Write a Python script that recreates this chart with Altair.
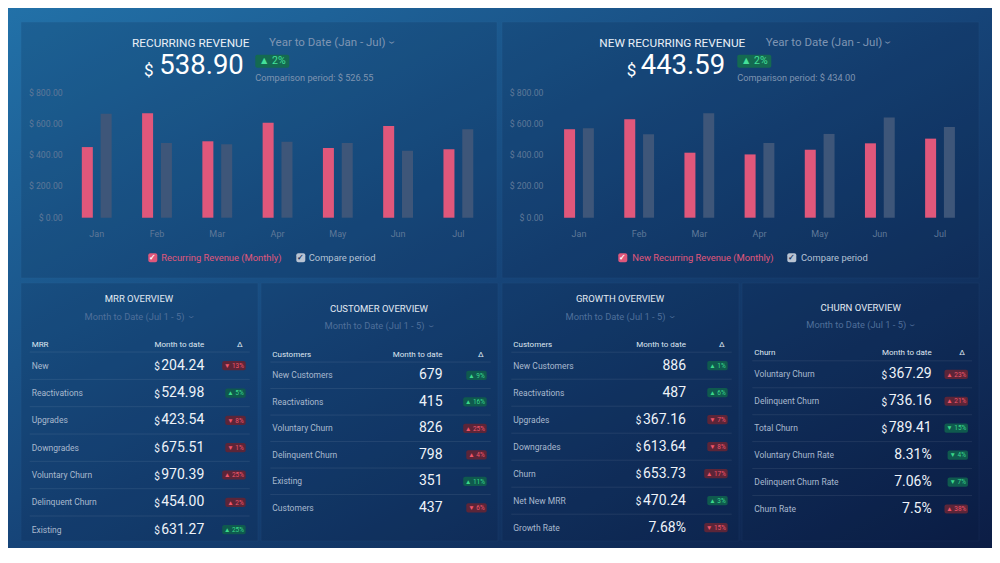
import altair as alt
import pandas as pd

# ---------------- data ----------------
months = ["Jan", "Feb", "Mar", "Apr", "May", "Jun", "Jul"]
rr_monthly = [452, 668, 489, 608, 446, 587, 438]
rr_compare = [666, 478, 470, 486, 478, 429, 566]
nrr_monthly = [566, 630, 416, 405, 435, 476, 506]
nrr_compare = [572, 534, 668, 478, 536, 642, 580]
y_ticks = [0, 200, 400, 600, 800]
y_tick_labels = ["$ 0.00", "$ 200.00", "$ 400.00", "$ 600.00", "$ 800.00"]

kpi_titles = ["RECURRING REVENUE", "NEW RECURRING REVENUE"]
kpi_values = ["538.90", "443.59"]
kpi_compare = ["Comparison period: $ 526.55", "Comparison period: $ 434.00"]
kpi_delta = ["▲ 2%", "▲ 2%"]
series_names = [["Recurring Revenue (Monthly)", "Compare period"],
                ["New Recurring Revenue (Monthly)", "Compare period"]]
period_top = "Year to Date (Jan - Jul)"
period_bottom = "Month to Date (Jul 1 - 5)"

table_titles = ["MRR OVERVIEW", "CUSTOMER OVERVIEW", "GROWTH OVERVIEW", "CHURN OVERVIEW"]
table_first_col = ["MRR", "Customers", "Customers", "Churn"]
table_value_head = "Month to date"

mrr_labels = ["New", "Reactivations", "Upgrades", "Downgrades", "Voluntary Churn", "Delinquent Churn", "Existing"]
mrr_values = ["$204.24", "$524.98", "$423.54", "$675.51", "$970.39", "$454.00", "$631.27"]
mrr_deltas = ["▼ 13%", "▲ 5%", "▼ 8%", "▼ 1%", "▲ 25%", "▲ 2%", "▲ 25%"]
mrr_good = [False, True, False, False, False, False, True]

cust_labels = ["New Customers", "Reactivations", "Voluntary Churn", "Delinquent Churn", "Existing", "Customers"]
cust_values = ["679", "415", "826", "798", "351", "437"]
cust_deltas = ["▲ 9%", "▲ 16%", "▲ 25%", "▲ 4%", "▲ 11%", "▼ 6%"]
cust_good = [True, True, False, False, True, False]

growth_labels = ["New Customers", "Reactivations", "Upgrades", "Downgrades", "Churn", "Net New MRR", "Growth Rate"]
growth_values = ["886", "487", "$367.16", "$613.64", "$653.73", "$470.24", "7.68%"]
growth_deltas = ["▲ 1%", "▲ 6%", "▼ 7%", "▼ 8%", "▲ 17%", "▲ 3%", "▼ 15%"]
growth_good = [True, True, False, False, False, True, False]

churn_labels = ["Voluntary Churn", "Delinquent Churn", "Total Churn", "Voluntary Churn Rate",
                "Delinquent Churn Rate", "Churn Rate"]
churn_values = ["$367.29", "$736.16", "$789.41", "8.31%", "7.06%", "7.5%"]
churn_deltas = ["▲ 23%", "▲ 21%", "▼ 15%", "▼ 4%", "▼ 7%", "▲ 38%"]
churn_good = [False, False, True, True, True, False]

tables = [
    (mrr_labels, mrr_values, mrr_deltas, mrr_good),
    (cust_labels, cust_values, cust_deltas, cust_good),
    (growth_labels, growth_values, growth_deltas, growth_good),
    (churn_labels, churn_values, churn_deltas, churn_good),
]

# ---------------- layout / style ----------------
W, H = 984, 540
OX, OY = 8, 8          # reference pixel -> chart pixel (page margin)
FONT = "Roboto"
PINK = "#e0577b"
GREY = "#3e5679"
WHITE = "#eef3f9"
DIM = "#7f95b3"
AXC = "#5f7898"
GREEN_BG, GREEN_TX = "#0f5a4e", "#3ad98c"
RED_BG, RED_TX = "#5c2538", "#f0566b"

top_layout = [
    dict(panel=(21, 497), title_cx=190.7, period_x=269, chev_x=391.5, dollar_x=144, num_x=159.3,
         badge=(255.3, 289.3), cmp_x=255.3, leg=(148.3, 161.3, 296.3, 308.7), axis_r=62.7,
         band=(66.6, 488.5)),
    dict(panel=(502, 979), title_cx=672.3, period_x=765.7, chev_x=888.0, dollar_x=626.7, num_x=640.7,
         badge=(737.3, 771.3), cmp_x=737.3, leg=(618.3, 632.3, 787.3, 801.0), axis_r=543.5,
         band=(548.9, 970.1)),
]
table_layout = [
    dict(panel=(21, 258), cx=139, title_y=299, sub_y=317, head_y=344.7, left=31.7, value_r=204.3,
         badge_r=245.7, row0=365.7, step=27.33),
    dict(panel=(261, 498), cx=379, title_y=308.7, sub_y=326.3, head_y=354.7, left=272.3, value_r=442.5,
         badge_r=486.7, row0=375.3, step=26.5),
    dict(panel=(502, 739), cx=620, title_y=299, sub_y=317, head_y=344.7, left=513.3, value_r=686,
         badge_r=727.7, row0=365.7, step=27.0),
    dict(panel=(742, 979), cx=860.7, title_y=308, sub_y=325.3, head_y=353.3, left=754.3, value_r=931.7,
         badge_r=968, row0=374.3, step=26.94),
]


def XS():
    return alt.Scale(domain=[OX, OX + W], range=[0, W], nice=False, zero=False)


def YS():
    return alt.Scale(domain=[OY, OY + H], range=[0, H], nice=False, zero=False)


def text_width(s, fs):
    w = 0.0
    for ch in s:
        if ch.isdigit():
            w += 0.562
        elif ch == ".":
            w += 0.263
        elif ch == "%":
            w += 0.733
        else:
            w += 0.55
    return w * fs


texts, rects, lines, chevrons = [], [], [], []


def T(x, y, text, size, color, align="left", weight="normal"):
    texts.append(dict(x=x, y=y, text=text, size=size, color=color, align=align, weight=weight))


def R(kind, x0, x1, y0, y1, color):
    rects.append(dict(kind=kind, x0=x0, x1=x1, y0=y0, y1=y1, color=color))


# top KPI panels
for i, lay in enumerate(top_layout):
    R("panel", lay["panel"][0], lay["panel"][1], 22, 278, "#06183a")
    T(lay["title_cx"], 42.5, kpi_titles[i], 11.8, "#e9eff7", "center")
    T(lay["period_x"], 42.5, period_top, 11.5, DIM)
    chevrons.append(dict(x=lay["chev_x"], y=42.5, size=12, dim=False))
    T(lay["dollar_x"], 70.5, "$", 17, "#ffffff")
    T(lay["num_x"], 66.2, kpi_values[i], 27.5, "#ffffff")
    R("badge", lay["badge"][0], lay["badge"][1], 54.7, 67.7, "#146a51")
    T((lay["badge"][0] + lay["badge"][1]) / 2, 61.4, kpi_delta[i], 10.5, "#44e09a", "center")
    T(lay["cmp_x"], 78.3, kpi_compare[i], 9.2, "#7f94b0")
    lg = lay["leg"]
    R("check", lg[0], lg[0] + 9, 253.3, 262.3, PINK)
    T(lg[0] + 4.5, 257.9, "✓", 8, "#ffffff", "center", "bold")
    T(lg[1], 257.7, series_names[i][0], 9.4, PINK)
    R("check", lg[2], lg[2] + 9, 253.3, 262.3, "#b9c4d3")
    T(lg[2] + 4.5, 257.9, "✓", 8, "#1b3560", "center", "bold")
    T(lg[3], 257.7, series_names[i][1], 9.4, "#b4c2d4")

# bottom tables
for t, lay in enumerate(table_layout):
    labels, values, deltas, good = tables[t]
    R("panel", lay["panel"][0], lay["panel"][1], 283, 541, "#06183a")
    T(lay["cx"], lay["title_y"], table_titles[t], 9.5, "#e3eaf3", "center")
    T(lay["cx"] - 4.5, lay["sub_y"], period_bottom, 9.3, "#4f6f9a", "center")
    chevrons.append(dict(x=lay["cx"] + 51.5, y=lay["sub_y"], size=10, dim=True))
    T(lay["left"], lay["head_y"], table_first_col[t], 8, "#dfe7f1")
    T(lay["value_r"], lay["head_y"], table_value_head, 8, "#dfe7f1", "right")
    T(lay["badge_r"] - 3, lay["head_y"], "Δ", 8, "#dfe7f1", "right")
    lines.append(dict(x0=lay["left"] - 2, x1=lay["badge_r"] + 4, y=lay["row0"] - lay["step"] / 2))
    for r, lab in enumerate(labels):
        y = lay["row0"] + r * lay["step"]
        T(lay["left"], y, lab, 8.5, "#a9b9ce")
        v = values[r]
        if v.startswith("$"):
            num = v[1:]
            T(lay["value_r"], y, num, 14, WHITE, "right")
            T(lay["value_r"] - text_width(num, 14) - 1.5, y + 1.5, "$", 10, WHITE, "right")
        else:
            T(lay["value_r"], y, v, 14, WHITE, "right")
        d = deltas[r]
        bw = 8 + 3.1 * len(d)
        R("badge", lay["badge_r"] - bw, lay["badge_r"], y - 4.6, y + 4.6, GREEN_BG if good[r] else RED_BG)
        T(lay["badge_r"] - bw / 2, y + 0.2, d, 6.5, GREEN_TX if good[r] else RED_TX, "center")
        if r < len(labels) - 1:
            lines.append(dict(x0=lay["left"] - 2, x1=lay["badge_r"] + 4, y=y + lay["step"] / 2))

layers = []

# background gradient
layers.append(
    alt.Chart(pd.DataFrame({"a": [0]})).mark_rect(
        color=alt.Gradient(
            gradient="linear",
            stops=[alt.GradientStop(color="#2271a8", offset=0),
                   alt.GradientStop(color="#164478", offset=0.5),
                   alt.GradientStop(color="#0c1d45", offset=1)],
            x1=0, y1=0, x2=1, y2=1,
        )
    ).encode(x=alt.value(0), x2=alt.value(W), y=alt.value(0), y2=alt.value(H))
)

rdf = pd.DataFrame(rects)
layers.append(
    alt.Chart(rdf[rdf.kind == "panel"]).mark_rect(
        opacity=0.16, stroke="#5d8cc0", strokeOpacity=0.35, strokeWidth=1
    ).encode(
        x=alt.X("x0:Q", scale=XS(), axis=None), x2="x1:Q",
        y=alt.Y("y0:Q", scale=YS(), axis=None), y2="y1:Q",
        color=alt.Color("color:N", scale=None, legend=None),
    )
)
layers.append(
    alt.Chart(pd.DataFrame(lines)).mark_rule(color="#ffffff", opacity=0.08, strokeWidth=1).encode(
        x=alt.X("x0:Q", scale=XS(), axis=None), x2="x1:Q",
        y=alt.Y("y:Q", scale=YS(), axis=None),
    )
)
layers.append(
    alt.Chart(rdf[rdf.kind != "panel"]).mark_rect(cornerRadius=2).encode(
        x=alt.X("x0:Q", scale=XS(), axis=None), x2="x1:Q",
        y=alt.Y("y0:Q", scale=YS(), axis=None), y2="y1:Q",
        color=alt.Color("color:N", scale=None, legend=None),
    )
)

# bar charts
for i, lay in enumerate(top_layout):
    names = series_names[i]
    monthly, compare = [(rr_monthly, rr_compare), (nrr_monthly, nrr_compare)][i]
    df = pd.DataFrame({
        "month": months * 2,
        "series": [names[0]] * len(months) + [names[1]] * len(months),
        "value": monthly + compare,
    })
    xs = dict(domain=months, range=[lay["band"][0] - OX, lay["band"][1] - OX],
              paddingInner=0.505, paddingOuter=0.2525)
    ys = dict(domain=[0, 800], range=[217.7 - OY, 92.7 - OY], nice=False)
    layers.append(
        alt.Chart(df).mark_bar().encode(
            x=alt.X("month:N", scale=alt.Scale(**xs), axis=None),
            xOffset=alt.XOffset("series:N", scale=alt.Scale(domain=names, paddingInner=0.415, paddingOuter=0)),
            y=alt.Y("value:Q", scale=alt.Scale(**ys), axis=None),
            y2=alt.datum(0),
            color=alt.Color("series:N", scale=alt.Scale(domain=names, range=[PINK, GREY]), legend=None),
        )
    )
    layers.append(
        alt.Chart(pd.DataFrame({"v": y_ticks, "label": y_tick_labels})).mark_text(
            align="right", baseline="middle", fontSize=8.7, color=AXC, font=FONT
        ).encode(
            x=alt.value(lay["axis_r"] - OX),
            y=alt.Y("v:Q", scale=alt.Scale(**ys), axis=None),
            text="label:N",
        )
    )
    layers.append(
        alt.Chart(pd.DataFrame({"month": months})).mark_text(
            align="center", baseline="middle", fontSize=9, color=AXC, font=FONT
        ).encode(
            x=alt.X("month:N", scale=alt.Scale(**xs), axis=None),
            y=alt.value(234 - OY),
            text="month:N",
        )
    )

# texts
tdf = pd.DataFrame(texts)
for (align, weight), g in tdf.groupby(["align", "weight"]):
    layers.append(
        alt.Chart(g).mark_text(align=align, baseline="middle", fontWeight=weight, font=FONT).encode(
            x=alt.X("x:Q", scale=XS(), axis=None),
            y=alt.Y("y:Q", scale=YS(), axis=None),
            text="text:N",
            size=alt.Size("size:Q", scale=None, legend=None),
            color=alt.Color("color:N", scale=None, legend=None),
        )
    )

cdf = pd.DataFrame(chevrons)
cdf["color"] = ["#4f6f9a" if d else DIM for d in cdf["dim"]]
cdf["t"] = "›"
layers.append(
    alt.Chart(cdf).mark_text(align="center", baseline="middle", angle=90, font=FONT).encode(
        x=alt.X("x:Q", scale=XS(), axis=None),
        y=alt.Y("y:Q", scale=YS(), axis=None),
        text="t:N",
        size=alt.Size("size:Q", scale=None, legend=None),
        color=alt.Color("color:N", scale=None, legend=None),
    )
)

chart = alt.layer(*layers).properties(
    width=W, height=H, padding=0, autosize=alt.AutoSizeParams(type="none"), background="#0e2a5a"
).resolve_scale(
    x="independent", y="independent", color="independent", size="independent", xOffset="independent"
).configure_view(stroke=None)

chart.save("out.html", embed_options={"renderer": "svg", "actions": False})
